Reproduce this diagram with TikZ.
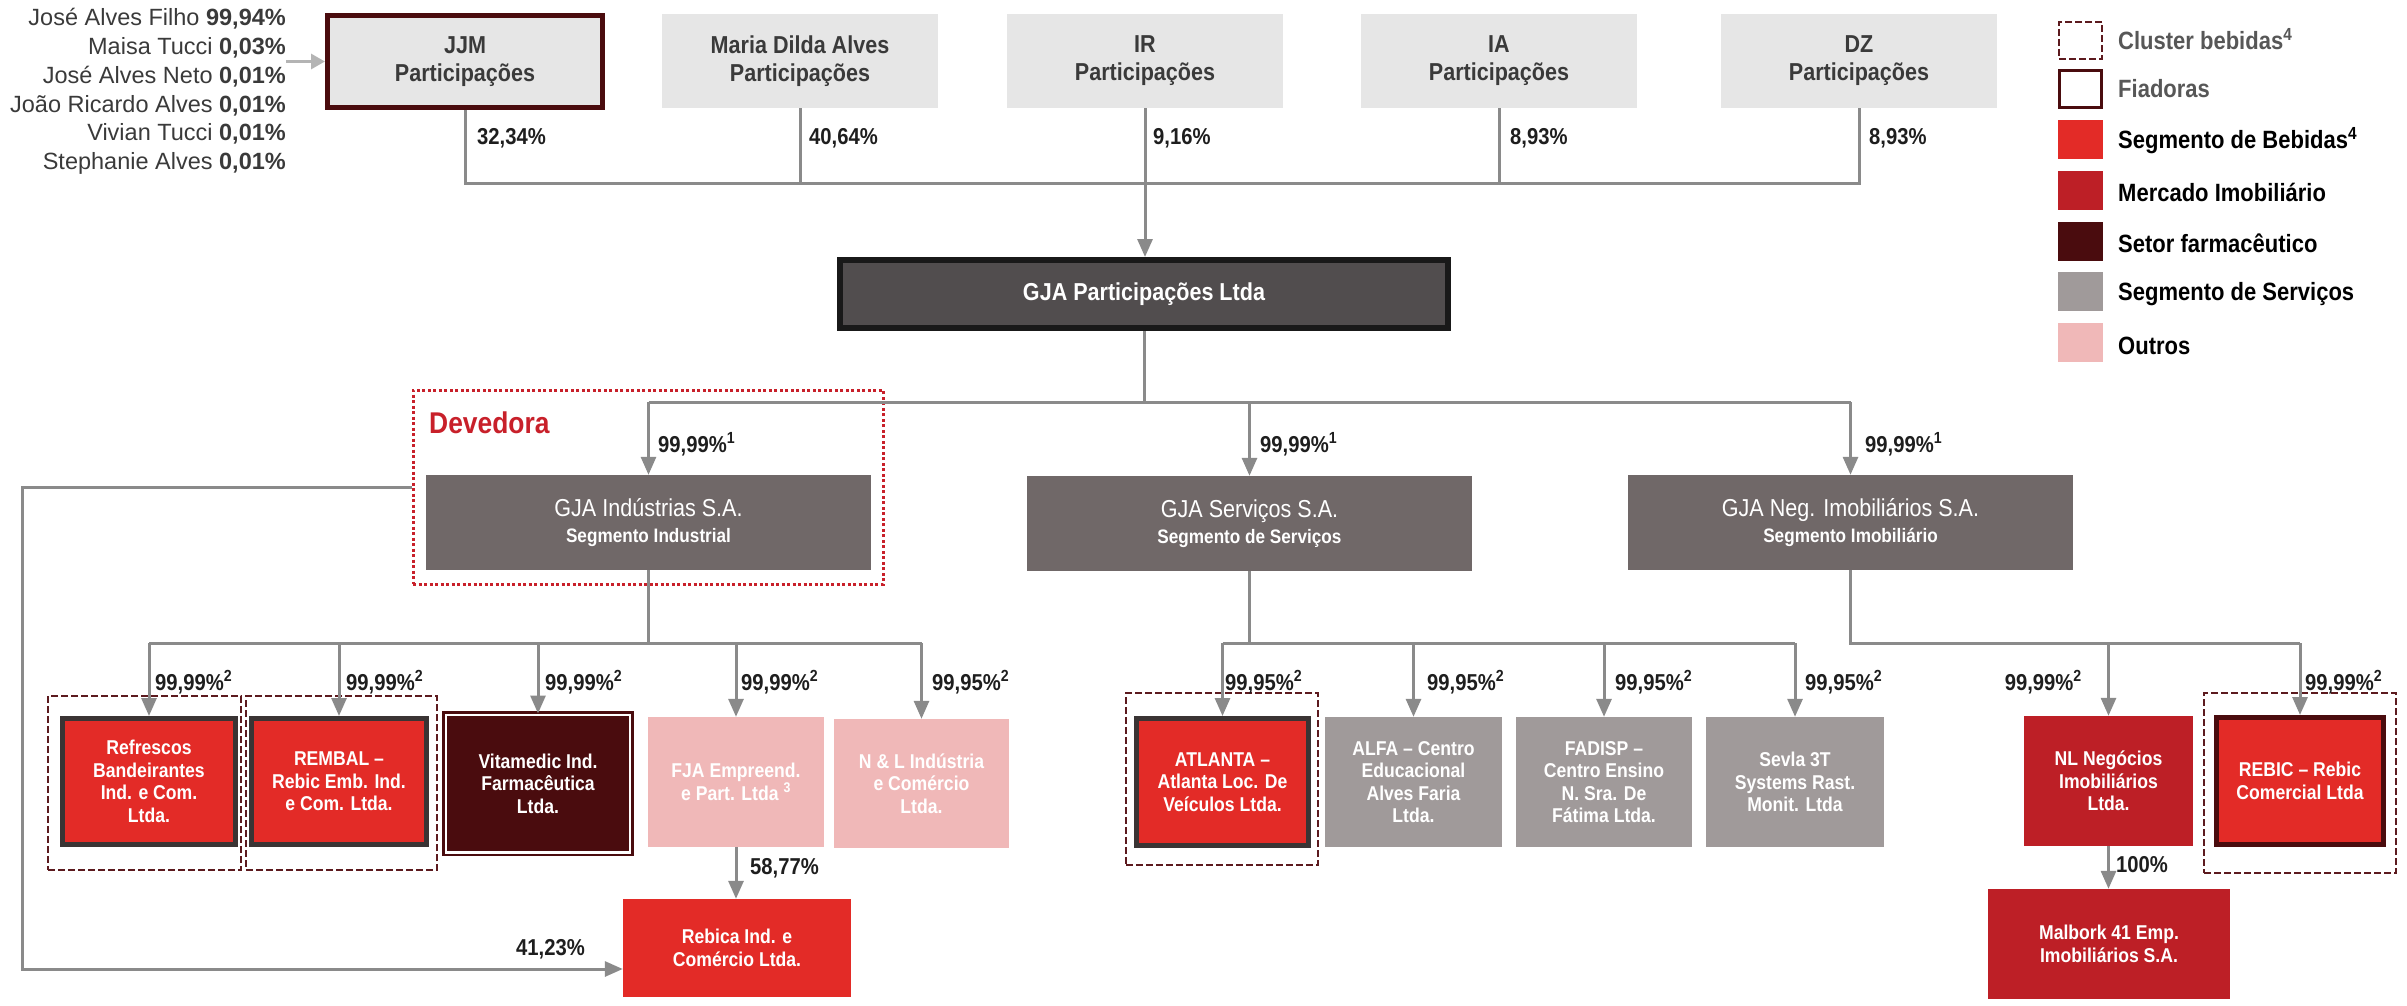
\documentclass[tikz,border=0pt]{standalone}
\usepackage{fontspec}
\setmainfont{Liberation Sans}[FakeStretch=0.88]
\newfontfamily\ownerfont{Liberation Sans}
\usepackage{xcolor}
\usepackage{tikz}
\usetikzlibrary{arrows.meta}

\definecolor{bebred}{HTML}{E32B27}
\definecolor{imobred}{HTML}{BD1F26}
\definecolor{farmadark}{HTML}{4A0C0E}
\definecolor{servgray}{HTML}{A09A9A}
\definecolor{outpink}{HTML}{F0B8B8}
\definecolor{segfill}{HTML}{706868}
\definecolor{gjafill}{HTML}{514D4E}
\definecolor{topfill}{HTML}{E6E6E6}
\definecolor{toptext}{HTML}{3A3A3A}
\definecolor{linegray}{HTML}{8A8A8A}
\definecolor{lightgray}{HTML}{B4B4B4}
\definecolor{devred}{HTML}{C8202A}
\definecolor{clusterred}{HTML}{5C1A1E}
\definecolor{fiadgray}{HTML}{3A3434}
\definecolor{pcttext}{HTML}{1E1E1E}

\begin{document}
\begin{tikzpicture}[x=1pt, y=-1pt,
  conn/.style={draw=linegray, line width=3pt},
  arr/.style={conn, -{Triangle[length=18pt, width=15pt]}},
  lightarr/.style={draw=lightgray, line width=3pt, -{Triangle[length=14pt, width=15pt]}},
  owners/.style={anchor=east, align=right, inner sep=0pt, text=toptext, font=\ownerfont\fontsize{23.5}{28.7}\selectfont},
  topbox/.style={fill=topfill, text=toptext, minimum width=276pt, minimum height=94pt, inner sep=0pt, align=center, font=\fontsize{24.5}{28}\selectfont\bfseries},
  segbox/.style={fill=segfill, text=white, minimum width=445pt, minimum height=95pt, inner sep=0pt, align=center, font=\fontsize{19.5}{26}\selectfont},
  cbox/.style={minimum width=176pt, minimum height=130pt, inner sep=0pt, align=center, text=white, font=\fontsize{20}{22.5}\selectfont\bfseries},
  beb/.style={cbox, fill=bebred},
  imob/.style={cbox, fill=imobred},
  serv/.style={cbox, fill=servgray},
  outros/.style={cbox, fill=outpink},
  farma/.style={cbox, fill=farmadark, draw=farmadark, line width=2.5pt, double=white, double distance=2.5pt},
  fiad/.style={draw=fiadgray, line width=5pt},
  cluster/.style={draw=clusterred, line width=2.5pt, dash pattern=on 7pt off 3pt},
  pct/.style={anchor=west, inner sep=0pt, text=pcttext, font=\fontsize{23}{25}\selectfont\bfseries},
  legsq/.style={minimum width=45pt, minimum height=39pt, inner sep=0pt},
  legtxt/.style={anchor=west, inner sep=0pt, font=\fontsize{25}{28}\selectfont\bfseries}]
\useasboundingbox (0,0) rectangle (2407,1006);

% shareholders
\node [owners] (own) at (286,91.5) {José Alves Filho \textbf{99,94\%}\\Maisa Tucci \textbf{0,03\%}\\José Alves Neto \textbf{0,01\%}\\João Ricardo Alves \textbf{0,01\%}\\Vivian Tucci \textbf{0,01\%}\\Stephanie Alves \textbf{0,01\%}};

\node [topbox, draw=farmadark, line width=5pt, minimum width=275pt, minimum height=92pt] (jjm) at (465,61.5) {JJM\\Participações};
\node [topbox] (maria) at (800,61) {Maria Dilda Alves\\Participações};
\node [topbox] (ir) at (1145,61) {IR\\Participações};
\node [topbox] (ia) at (1499,61) {IA\\Participações};
\node [topbox] (dz) at (1859,61) {DZ\\Participações};
\draw [lightarr] (own.east |- jjm.west) -- (jjm.west);

\node [pct] (pjjm) at (477,138) {32,34\%};
\node [pct] (pmaria) at (809,138) {40,64\%};
\node [pct] (pir) at (1153,138) {9,16\%};
\node [pct] (pia) at (1510,138) {8,93\%};
\node [pct] (pdz) at (1869,138) {8,93\%};

\coordinate (topbus) at (0,183);
\draw [conn] (jjm.south) |- (dz.south |- topbus) -- (dz.south);
\draw [conn] (maria.south) -- (maria.south |- topbus);
\draw [conn] (ia.south) -- (ia.south |- topbus);

\node [fill=gjafill, draw=black!90, line width=6pt, minimum width=608pt, minimum height=68pt, text=white, font=\fontsize{24.5}{28}\selectfont\bfseries] (gja) at (1144,294) {GJA Participações Ltda};
\draw [arr] (ir.south) -- (ir.south |- gja.north);

% segments
\node [segbox] (ind) at (648.5,522.5) {{\fontsize{24.5}{26}\selectfont GJA Indústrias S.A.}\\{\bfseries Segmento Industrial}};
\node [segbox] (srv) at (1249.5,523.5) {{\fontsize{24.5}{26}\selectfont GJA Serviços S.A.}\\{\bfseries Segmento de Serviços}};
\node [segbox] (imb) at (1850.5,522.5) {{\fontsize{24.5}{26}\selectfont GJA Neg. Imobiliários S.A.}\\{\bfseries Segmento Imobiliário}};
\node [draw=devred, line width=3pt, dash pattern=on 3pt off 2.5pt, minimum width=470pt, minimum height=194pt] (dev) at (648,487) {};
\node [anchor=west, inner sep=0pt, text=devred, font=\fontsize{30}{32}\selectfont\bfseries] (devtxt) at (429,423) {Devedora};

\coordinate (midbus) at (0,402);
\draw [conn] (gja.south) -- (gja.south |- midbus);
\draw [conn] (ind.north |- midbus) -- (imb.north |- midbus);
\draw [arr] (ind.north |- midbus) -- (ind.north);
\draw [arr] (srv.north |- midbus) -- (srv.north);
\draw [arr] (imb.north |- midbus) -- (imb.north);
\node [pct] (pind) at (658,444) {99,99\%\textsuperscript{1}};
\node [pct] (psrv) at (1260,444) {99,99\%\textsuperscript{1}};
\node [pct] (pimb) at (1865,444) {99,99\%\textsuperscript{1}};

% industrial companies
\node [cluster, minimum width=193pt, minimum height=174pt] (cl1) at (144.5,783) {};
\node [cluster, minimum width=191pt, minimum height=174pt] (cl2) at (341.5,783) {};
\node [beb, fiad, minimum width=173pt, minimum height=126pt] (refr) at (149,781.5) {Refrescos\\Bandeirantes\\Ind. e Com.\\Ltda.};
\node [beb, fiad, minimum width=175pt, minimum height=126pt] (rembal) at (339,781.5) {REMBAL –\\Rebic Emb. Ind.\\e Com. Ltda.};
\node [farma, minimum width=184pt, minimum height=137.5pt] (vita) at (538,783.5) {Vitamedic Ind.\\Farmacêutica\\Ltda.};
\node [outros] (fja) at (736,782) {FJA Empreend.\\e Part. Ltda \textsuperscript{3}};
\node [outros, minimum width=175pt, minimum height=129pt] (nlind) at (921.5,783.5) {N \& L Indústria\\e Comércio\\Ltda.};
\node [beb, minimum width=228pt, minimum height=98pt] (rebica) at (737,948) {Rebica Ind. e\\Comércio Ltda.};

\coordinate (lowbus) at (0,643);
\draw [conn] (ind.south) -- (ind.south |- lowbus);
\draw [conn] (refr.north |- lowbus) -- (nlind.north |- lowbus);
\draw [arr] (refr.north |- lowbus) -- (refr.north);
\draw [arr] (rembal.north |- lowbus) -- (rembal.north);
\draw [arr] (vita.north |- lowbus) -- (vita.north);
\draw [arr] (fja.north |- lowbus) -- (fja.north);
\draw [arr] (nlind.north |- lowbus) -- (nlind.north);
\node [pct] (prefr) at (155,682) {99,99\%\textsuperscript{2}};
\node [pct] (prembal) at (346,682) {99,99\%\textsuperscript{2}};
\node [pct] (pvita) at (545,682) {99,99\%\textsuperscript{2}};
\node [pct] (pfja) at (741,682) {99,99\%\textsuperscript{2}};
\node [pct] (pnlind) at (932,682) {99,95\%\textsuperscript{2}};

\draw [arr] (fja.south) -- (fja.south |- rebica.north);
\node [pct] (prebica) at (750,868) {58,77\%};
\draw [arr] (dev.west) -| (22,969) -- (rebica.west |- 0,969);
\node [pct, anchor=east] (pdev) at (585,949) {41,23\%};

% service companies
\node [cluster, minimum width=192pt, minimum height=172pt] (cl3) at (1222,779) {};
\node [beb, fiad, minimum width=172pt, minimum height=127pt] (atl) at (1222.5,782) {ATLANTA –\\Atlanta Loc. De\\Veículos Ltda.};
\node [serv, minimum width=177pt] (alfa) at (1413.5,782) {ALFA – Centro\\Educacional\\Alves Faria\\Ltda.};
\node [serv] (fadisp) at (1604,782) {FADISP –\\Centro Ensino\\N. Sra. De\\Fátima Ltda.};
\node [serv, minimum width=178pt] (sevla) at (1795,782) {Sevla 3T\\Systems Rast.\\Monit. Ltda};

\draw [conn] (srv.south) -- (srv.south |- lowbus);
\draw [conn] (atl.north |- lowbus) -- (sevla.north |- lowbus);
\draw [arr] (atl.north |- lowbus) -- (atl.north);
\draw [arr] (alfa.north |- lowbus) -- (alfa.north);
\draw [arr] (fadisp.north |- lowbus) -- (fadisp.north);
\draw [arr] (sevla.north |- lowbus) -- (sevla.north);
\node [pct] (patl) at (1225,682) {99,95\%\textsuperscript{2}};
\node [pct] (palfa) at (1427,682) {99,95\%\textsuperscript{2}};
\node [pct] (pfadisp) at (1615,682) {99,95\%\textsuperscript{2}};
\node [pct] (psevla) at (1805,682) {99,95\%\textsuperscript{2}};

% real estate companies
\node [cluster, minimum width=192pt, minimum height=180pt] (cl4) at (2300,783) {};
\node [imob, minimum width=169pt] (nlneg) at (2108.5,781) {NL Negócios\\Imobiliários\\Ltda.};
\node [beb, fiad, draw=farmadark, minimum width=167pt, minimum height=127pt] (rebic) at (2300,781) {REBIC – Rebic\\Comercial Ltda};
\node [imob, minimum width=242pt, minimum height=110pt] (malb) at (2109,944) {Malbork 41 Emp.\\Imobiliários S.A.};

\draw [conn] (imb.south) |- (rebic.north |- lowbus);
\draw [arr] (nlneg.north |- lowbus) -- (nlneg.north);
\draw [arr] (rebic.north |- lowbus) -- (rebic.north);
\node [pct, anchor=east] (pnlneg) at (2082,682) {99,99\%\textsuperscript{2}};
\node [pct] (prebic) at (2305,682) {99,99\%\textsuperscript{2}};
\draw [arr] (nlneg.south) -- (nlneg.south |- malb.north);
\node [pct] (pmalb) at (2116,865) {100\%};

% legend
\node [legsq, cluster, minimum width=43pt, minimum height=37pt] (lclu) at (2080.5,40.5) {};
\node [legsq, draw=farmadark, line width=3pt, minimum width=42pt, minimum height=37pt] (lfia) at (2080.5,89) {};
\node [legsq, fill=bebred] (lbeb) at (2080.5,139.5) {};
\node [legsq, fill=imobred] (limo) at (2080.5,190.5) {};
\node [legsq, fill=farmadark] (lfar) at (2080.5,241.5) {};
\node [legsq, fill=servgray] (lser) at (2080.5,291.5) {};
\node [legsq, fill=outpink] (lout) at (2080.5,342.5) {};
\node [legtxt, text=toptext!85] (tclu) at (2118,39) {Cluster bebidas\textsuperscript{4}};
\node [legtxt, text=toptext!85] (tfia) at (2118,89) {Fiadoras};
\node [legtxt] (tbeb) at (2118,141) {Segmento de Bebidas\textsuperscript{4}};
\node [legtxt] (timo) at (2118,192) {Mercado Imobiliário};
\node [legtxt] (tfar) at (2118,243) {Setor farmacêutico};
\node [legtxt] (tser) at (2118,294) {Segmento de Serviços};
\node [legtxt] (tout) at (2118,346) {Outros};
\end{tikzpicture}
\end{document}
